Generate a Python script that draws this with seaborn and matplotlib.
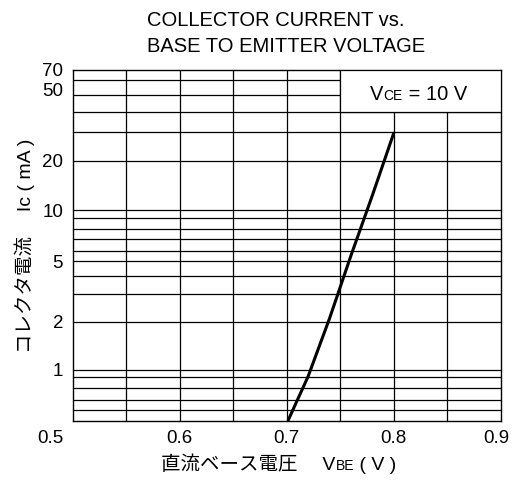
import numpy as np
import pandas as pd
import matplotlib
matplotlib.use("Agg")
import matplotlib.pyplot as plt
import matplotlib.transforms as mtransforms
import seaborn as sns
from matplotlib.patches import Rectangle

# curve
vbe = [0.7015, 0.72, 0.74, 0.76, 0.78, 0.80]
ic_ma = [0.485, 0.91, 2.1, 5.2, 12.4, 30.5]

x_ticks = [0.5, 0.6, 0.7, 0.8, 0.9]
y_tick_labels = ["1", "2", "5", "10", "20", "50", "70"]

title_lines = ["COLLECTOR CURRENT vs.", "BASE TO EMITTER VOLTAGE"]
vce_label = "10 V"

# styling: where the datasheet's (uneven) grid lines and labels sit
y_label_pos = [1, 2, 4.8, 10, 20.5, 57, 76]
h_grid = [0.56, 0.65, 0.77, 0.9, 1, 2, 3.0, 3.9, 4.8, 5.6, 6.6, 7.7, 9.0, 10,
          20.5, 31.2, 41.5, 53.0, 66.1]
v_grid = [0.55, 0.6, 0.65, 0.7, 0.75, 0.8, 0.85]

sns.set_style("white")
plt.rcParams['font.family'] = ['Liberation Sans', 'Noto Sans CJK JP']
plt.rcParams['text.color'] = 'black'
plt.rcParams['axes.labelcolor'] = 'black'

fig = plt.figure(figsize=(5.18, 4.8), dpi=100)
ax = fig.add_axes([0.1404, 0.1229, 0.8262, 0.7313])

df = pd.DataFrame({'vbe': vbe, 'ic': ic_ma})
sns.lineplot(data=df, x='vbe', y='ic', color='black', lw=2.2, ax=ax, zorder=5)

ax.set_yscale('log')
ax.set_xlim(0.5, 0.9)
ax.set_ylim(0.478, 76)

for v in h_grid:
    ax.axhline(v, color='black', lw=0.9, zorder=1)
for v in v_grid:
    ax.axvline(v, color='black', lw=0.9, zorder=1)

# condition box in the top right corner
ax.add_patch(Rectangle((0.75, 41.5), 0.15, 76 - 41.5, facecolor='white',
                       edgecolor='black', lw=0.9, zorder=3))
t = ax.text(0.778, 49, "V", fontsize=14.5, ha='left', va='baseline', zorder=4)
t2 = ax.annotate("CE", xy=(1, 0), xycoords=t, xytext=(0, 0.8),
                 textcoords='offset points', fontsize=10, va='bottom', zorder=4)
ax.annotate(" = " + vce_label, xy=(1, 0), xycoords=t2, xytext=(0, -0.8),
            textcoords='offset points', fontsize=14.5, va='bottom', zorder=4)

ax.set_xticks(x_ticks)
ax.set_xticklabels([f"{v:.1f}" for v in x_ticks])
ax.set_yticks(y_label_pos)
ax.set_yticklabels(y_tick_labels)
ax.yaxis.set_minor_locator(matplotlib.ticker.NullLocator())
ax.tick_params(axis='both', length=0, labelsize=13.5, colors='black')
ax.tick_params(axis='x', pad=6.5)
ax.tick_params(axis='y', pad=7)

# the datasheet nudges the end labels inward
xl_labels = ax.get_xticklabels()
shift_first = mtransforms.ScaledTranslation(-22 / 100, 0, fig.dpi_scale_trans)
shift_last = mtransforms.ScaledTranslation(-4 / 100, 0, fig.dpi_scale_trans)
xl_labels[0].set_transform(xl_labels[0].get_transform() + shift_first)
xl_labels[-1].set_transform(xl_labels[-1].get_transform() + shift_last)

for s in ax.spines.values():
    s.set_color('black')
    s.set_linewidth(1.0)

ax.set_xlabel("")
ax.set_ylabel("コレクタ電流　 Ic ( mA )", fontsize=14, labelpad=5)

# x label with small letters after V
xl = fig.text(0.648, 0.02, "直流ベース電圧　 V", fontsize=14, ha='right', va='baseline')
xl2 = ax.annotate("BE", xy=(1, 0), xycoords=xl, xytext=(0, 0.8),
                  textcoords='offset points', fontsize=10, va='bottom')
ax.annotate(" ( V )", xy=(1, 0), xycoords=xl2, xytext=(0, -0.8),
            textcoords='offset points', fontsize=14, va='bottom')

fig.text(0.2838, 0.9465, title_lines[0], fontsize=14.5, ha='left', va='baseline')
fig.text(0.2838, 0.892, title_lines[1], fontsize=14.5, ha='left', va='baseline')

fig.savefig("out.png", dpi=100)
